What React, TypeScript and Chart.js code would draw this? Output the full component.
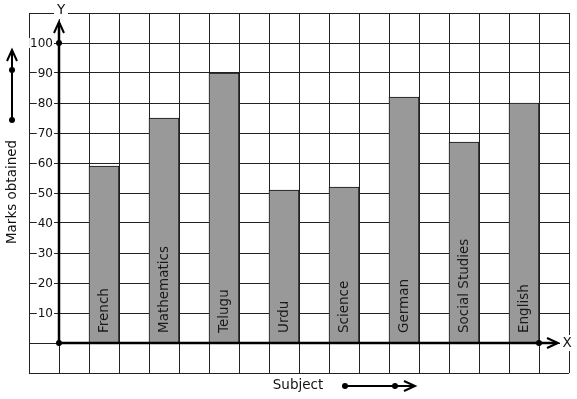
import React, { useEffect, useRef } from "react";
import { Chart, registerables } from "chart.js";

Chart.register(...registerables);

const subjects = ["French", "Mathematics", "Telugu", "Urdu", "Science", "German", "Social Studies", "English"];
const marks = [59, 75, 90, 51, 52, 82, 67, 80];
const tickValues = [10, 20, 30, 40, 50, 60, 70, 80, 90, 100];
const cellCount = 18;
const yAxisTitle = "Marks obtained";
const xAxisTitle = "Subject";

const FONT = "'DejaVu Sans', sans-serif";

function buildCells() {
  const labels: string[] = [];
  const values: (number | null)[] = [];
  for (let i = 0; i < cellCount; i++) {
    labels.push("");
    values.push(null);
  }
  subjects.forEach((s, k) => {
    const idx = 2 + 2 * k;
    labels[idx] = s;
    values[idx] = marks[k];
  });
  return { labels, values };
}

const decorPlugin = {
  id: "decor",
  afterDatasetsDraw(chart: any) {
    const ctx = chart.ctx as CanvasRenderingContext2D;
    const xs = chart.scales.x;
    const ys = chart.scales.y;
    const area = chart.chartArea;
    const cellW = (area.right - area.left) / cellCount;
    const axisX = Math.round(area.left + cellW);
    const axisY = Math.round(ys.getPixelForValue(0));
    const labels = chart.data.labels as string[];
    const data = chart.data.datasets[0].data as (number | null)[];
    ctx.save();

    // bar labels
    const meta = chart.getDatasetMeta(0);
    ctx.fillStyle = "#1a1a1a";
    ctx.font = `13.5px ${FONT}`;
    meta.data.forEach((bar: any, i: number) => {
      if (data[i] == null) return;
      ctx.save();
      ctx.translate(bar.x, axisY - 10);
      ctx.rotate(-Math.PI / 2);
      ctx.textAlign = "left";
      ctx.textBaseline = "middle";
      ctx.fillText(labels[i], 0, 0);
      ctx.restore();
    });

    // tick labels
    ctx.font = `12px ${FONT}`;
    ctx.textAlign = "right";
    ctx.textBaseline = "middle";
    tickValues.forEach((v) => {
      const y = ys.getPixelForValue(v);
      const t = String(v);
      const w = ctx.measureText(t).width;
      const rx = axisX - 6;
      ctx.fillStyle = "#fff";
      ctx.fillRect(rx - w - 1, y - 5, w + 2, 10);
      ctx.fillStyle = "#111";
      ctx.fillText(t, rx, y + 0.5);
    });

    // axes
    ctx.strokeStyle = "#000";
    ctx.fillStyle = "#000";
    ctx.lineWidth = 2.5;
    ctx.lineCap = "butt";
    const yTip = area.top + 9;
    ctx.beginPath();
    ctx.moveTo(axisX, axisY);
    ctx.lineTo(axisX, yTip + 1);
    ctx.stroke();
    ctx.lineWidth = 2;
    ctx.beginPath();
    ctx.moveTo(axisX - 5, yTip + 11);
    ctx.lineTo(axisX, yTip);
    ctx.lineTo(axisX + 5, yTip + 11);
    ctx.stroke();

    const xTip = area.right - 11;
    ctx.lineWidth = 2.5;
    ctx.beginPath();
    ctx.moveTo(axisX, axisY);
    ctx.lineTo(xTip - 1, axisY);
    ctx.stroke();
    ctx.lineWidth = 2;
    ctx.beginPath();
    ctx.moveTo(xTip - 11, axisY - 5);
    ctx.lineTo(xTip, axisY);
    ctx.lineTo(xTip - 11, axisY + 5);
    ctx.stroke();

    const dot = (x: number, y: number) => {
      ctx.beginPath();
      ctx.arc(x, y, 3, 0, Math.PI * 2);
      ctx.fill();
    };
    dot(axisX, ys.getPixelForValue(100));
    dot(axisX, axisY);
    dot(area.right - cellW, axisY);

    // axis letters
    ctx.font = `13.5px ${FONT}`;
    ctx.textAlign = "center";
    ctx.textBaseline = "middle";
    ctx.fillStyle = "#fff";
    ctx.fillRect(axisX - 5, area.top - 10, 14, 16);
    ctx.fillStyle = "#111";
    ctx.fillText("Y", axisX + 2, area.top - 3);
    ctx.fillStyle = "#fff";
    ctx.fillRect(area.right - 9, axisY - 8, 14, 16);
    ctx.fillStyle = "#111";
    ctx.fillText("X", area.right - 2, axisY);

    // outside titles
    ctx.fillStyle = "#111";
    ctx.save();
    ctx.translate(12, 192);
    ctx.rotate(-Math.PI / 2);
    ctx.fillText(yAxisTitle, 0, 0);
    ctx.restore();
    ctx.fillText(xAxisTitle, 298, 385);

    ctx.fillStyle = "#000";
    ctx.lineWidth = 2;
    // left arrow
    ctx.beginPath();
    ctx.moveTo(12, 120);
    ctx.lineTo(12, 51);
    ctx.stroke();
    ctx.beginPath();
    ctx.moveTo(7, 61);
    ctx.lineTo(12, 50);
    ctx.lineTo(17, 61);
    ctx.stroke();
    dot(12, 70);
    dot(12, 120);
    // bottom arrow
    ctx.beginPath();
    ctx.moveTo(345, 386);
    ctx.lineTo(414, 386);
    ctx.stroke();
    ctx.beginPath();
    ctx.moveTo(404, 381);
    ctx.lineTo(415, 386);
    ctx.lineTo(404, 391);
    ctx.stroke();
    dot(345, 386);
    dot(395, 386);

    ctx.restore();
  },
};

export default function App() {
  const ref = useRef<HTMLCanvasElement>(null);
  useEffect(() => {
    if (!ref.current) return;
    const { labels, values } = buildCells();
    const chart = new Chart(ref.current, {
      type: "bar",
      data: {
        labels,
        datasets: [
          {
            data: values,
            backgroundColor: "#999999",
            borderColor: "#111",
            borderWidth: 1,
            barPercentage: 1,
            categoryPercentage: 1,
          },
        ],
      },
      options: {
        animation: false,
        responsive: false,
        devicePixelRatio: 1,
        layout: { padding: { left: 29, top: 13, right: 8, bottom: 26 } },
        plugins: { legend: { display: false }, tooltip: { enabled: false } },
        scales: {
          x: {
            type: "category",
            grid: { color: "#222", lineWidth: 1, drawTicks: false, offset: true },
            border: { display: false },
            ticks: { display: false },
          },
          y: {
            type: "linear",
            min: -10,
            max: 110,
            grid: { color: "#222", lineWidth: 1, drawTicks: false },
            border: { display: false },
            ticks: { display: false, stepSize: 10 },
          },
        },
      },
      plugins: [decorPlugin],
    });
    return () => chart.destroy();
  }, []);
  return (
    <div style={{ position: "fixed", left: 0, top: 0, width: 577, height: 399, background: "#fff" }}>
      <canvas ref={ref} width={577} height={399} style={{ display: "block" }} />
    </div>
  );
}
